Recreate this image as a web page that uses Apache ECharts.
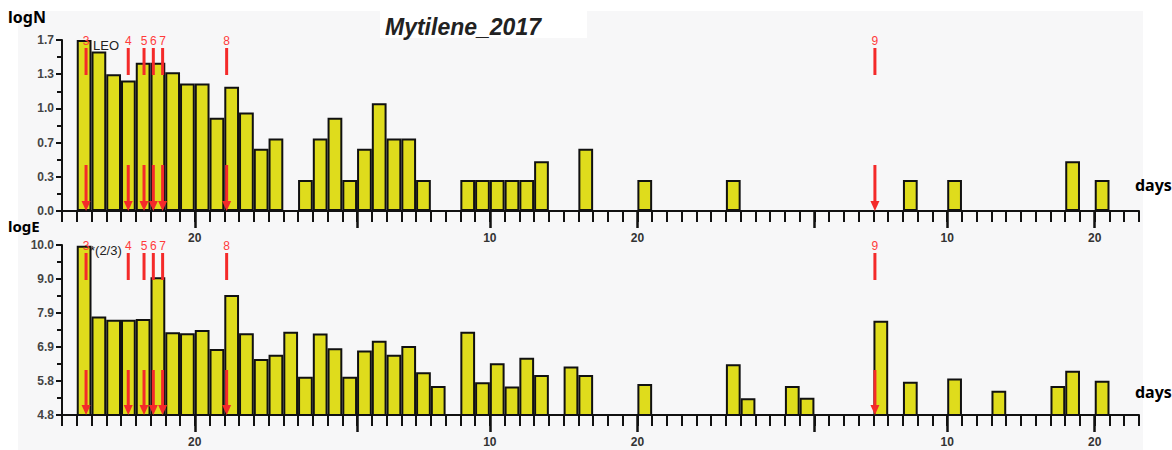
<!DOCTYPE html>
<html><head><meta charset="utf-8">
<script src="https://cdn.jsdelivr.net/npm/echarts@6/dist/echarts.min.js"></script>
<style>html,body{margin:0;padding:0;background:#fff}#c{width:1172px;height:450px}</style>
</head><body><div id="c"></div>
<script>
// ---- data ----
const title = "Mytilene_2017";
const days = [
 "Jun 11","Jun 12","Jun 13","Jun 14","Jun 15","Jun 16","Jun 17","Jun 18","Jun 19","Jun 20",
 "Jun 21","Jun 22","Jun 23","Jun 24","Jun 25","Jun 26","Jun 27","Jun 28","Jun 29","Jun 30",
 "Jul 1","Jul 2","Jul 3","Jul 4","Jul 5","Jul 6","Jul 7","Jul 8","Jul 9","Jul 10",
 "Jul 11","Jul 12","Jul 13","Jul 14","Jul 15","Jul 16","Jul 17","Jul 18","Jul 19","Jul 20",
 "Jul 21","Jul 22","Jul 23","Jul 24","Jul 25","Jul 26","Jul 27","Jul 28","Jul 29","Jul 30",
 "Jul 31","Aug 1","Aug 2","Aug 3","Aug 4","Aug 5","Aug 6","Aug 7","Aug 8","Aug 9",
 "Aug 10","Aug 11","Aug 12","Aug 13","Aug 14","Aug 15","Aug 16","Aug 17","Aug 18","Aug 19",
 "Aug 20","Aug 21","Aug 22"
];
const dayBounds = days.concat(["Aug 23"]);
const majorDays = ["1","10","20"];
const labelledDays = ["10","20"];

const logN = [
 null,1.65,1.54,1.32,1.26,1.43,1.43,1.34,1.23,1.23,
 0.90,1.20,0.95,0.60,0.70,0,0.30,0.70,0.90,0.30,
 0.60,1.04,0.70,0.70,0.30,0,null,0.30,0.30,0.30,
 0.30,0.30,0.48,null,0,0.60,null,null,null,0.30,
 null,null,null,null,null,0.30,0,null,null,0,
 0,null,null,null,null,0,null,0.30,null,null,
 0.30,null,null,0,null,null,null,0,0.48,null,
 0.30,null,null
];
const logE = [
 null,9.98,7.81,7.71,7.71,7.74,9.01,7.33,7.30,7.40,
 6.82,8.47,7.30,6.51,6.64,7.35,5.97,7.29,6.84,5.97,
 6.77,7.07,6.64,6.91,6.11,5.69,null,7.35,5.80,6.38,
 5.67,6.55,6.02,null,6.28,6.02,null,null,null,5.75,
 null,null,null,null,null,6.35,5.31,null,null,5.69,
 5.33,null,null,null,null,7.68,null,5.82,null,null,
 5.92,null,null,5.54,null,null,null,5.69,6.15,null,
 5.85,null,null
];
const logNTicks = ["0.0","0.3","0.7","1.0","1.3","1.7"];
const logETicks = ["4.8","5.8","6.9","7.9","9.0","10.0"];
const logNRange = {min:0, max:1.65, step:0.33};
const logERange = {min:4.8, max:10.0, step:1.04};
// event markers: position in days from the axis start, and their numbers
const eventPos = [1.63, 4.49, 5.56, 6.19, 6.82, 11.16, 55.1];
const eventLabels = ["3","4","5","6","7","8","9"];

// ---- styles ----
const BAR = '#dfdc1c', INK = '#111', RED = '#f42a2a';
const FONT = '"Liberation Sans", Arial, sans-serif';
const dayOf = v => String(v).split(' ')[1];

const grids = [
  {left:62, width:1077, top:40, height:171, outerBoundsMode:'none', containLabel:false},
  {left:62, width:1077, top:245, height:170, outerBoundsMode:'none', containLabel:false}
];
const xAxes = [], yAxes = [], series = [];
const panels = [
  {data:logN, ticks:logNTicks, range:logNRange},
  {data:logE, ticks:logETicks, range:logERange}
];
panels.forEach((p, g) => {
  xAxes.push({
    type:'category', gridIndex:g, position:'bottom', data:days, boundaryGap:true,
    axisLine:{onZero:false, lineStyle:{color:INK, width:2}},
    axisTick:{show:true, interval:0, length:11, lineStyle:{color:INK, width:2}},
    axisLabel:{show:false}, splitLine:{show:false}
  });
  xAxes.push({
    type:'category', gridIndex:g, position:'bottom', data:dayBounds, boundaryGap:false,
    axisLine:{show:false, onZero:false},
    axisTick:{show:true, interval:(i, v) => majorDays.includes(dayOf(v)), length:17, lineStyle:{color:INK, width:2.5}},
    axisLabel:{show:true, interval:(i, v) => labelledDays.includes(dayOf(v)),
      formatter: v => dayOf(v), margin:21, fontFamily:FONT, fontWeight:'bold', fontSize:12, color:'#333'},
    splitLine:{show:false}
  });
  xAxes.push({type:'value', gridIndex:g, position:'bottom', min:0, max:days.length, show:false});
  yAxes.push({
    type:'value', gridIndex:g, min:p.range.min, max:p.range.max, interval:p.range.step,
    axisLine:{show:true, lineStyle:{color:INK, width:2}},
    axisTick:{show:true, length:6, lineStyle:{color:INK, width:2}},
    minorTick:{show:true, splitNumber:2, length:5, lineStyle:{color:INK, width:2}},
    splitLine:{show:false},
    axisLabel:{formatter: v => p.ticks[Math.round((v - p.range.min) / p.range.step)],
      margin:8, fontFamily:FONT, fontWeight:'bold', fontSize:12, color:'#444'}
  });
  series.push({
    type:'bar', xAxisIndex:3*g, yAxisIndex:g, data:p.data, barWidth:'100%',
    itemStyle:{color:BAR, borderColor:INK, borderWidth:2}, z:2
  });
  series.push({
    type:'custom', xAxisIndex:3*g+2, yAxisIndex:g, z:5,
    data: eventPos.map((x, i) => [x, i]),
    renderItem: (params, api) => {
      const x = api.coord([api.value(0), p.range.min])[0];
      const cs = params.coordSys, top = cs.y, bot = cs.y + cs.height;
      return {type:'group', children:[
        {type:'text', style:{text:eventLabels[api.value(1)], x:x, y:top+1, textAlign:'center', textVerticalAlign:'middle',
          fill:'#ff3b3b', font:'12px ' + FONT}},
        {type:'line', shape:{x1:x, y1:top+8, x2:x, y2:top+35}, style:{stroke:RED, lineWidth:3}},
        {type:'line', shape:{x1:x, y1:top+125, x2:x, y2:bot-7}, style:{stroke:RED, lineWidth:3}},
        {type:'polygon', shape:{points:[[x-4.5, bot-10], [x+4.5, bot-10], [x, bot]]}, style:{fill:RED}}
      ]};
    }
  });
});

const chart = echarts.init(document.getElementById('c'), null, {renderer:'svg'});
chart.setOption({
  animation:false,
  backgroundColor:'#ffffff',
  grid:grids, xAxis:xAxes, yAxis:yAxes, series:series,
  graphic:[
    {type:'rect', z:-100, shape:{x:18, y:11, width:1125, height:439}, style:{fill:'#f7f7f8'}},
    {type:'rect', z:-90, shape:{x:380, y:11, width:207, height:27}, style:{fill:'#ffffff'}},
    {type:'text', z:10, x:385, y:27, style:{text:title, font:'italic bold 23px ' + FONT, fill:'#222', textVerticalAlign:'middle'}},
    {type:'text', z:10, x:8, y:17, style:{text:'logN', font:'bold 16px "Noto Sans", sans-serif', fill:'#000', textVerticalAlign:'middle'}},
    {type:'text', z:10, x:8, y:226, style:{text:'logE', font:'bold 15px "Noto Sans", sans-serif', fill:'#000', textVerticalAlign:'middle'}},
    {type:'text', z:10, x:1135, y:185, style:{text:'days', font:'bold 16px "Noto Sans", sans-serif', fill:'#000', textVerticalAlign:'middle'}},
    {type:'text', z:10, x:1135, y:392, style:{text:'days', font:'bold 16px "Noto Sans", sans-serif', fill:'#000', textVerticalAlign:'middle'}},
    {type:'text', z:10, x:93, y:45, style:{text:'LEO', font:'13px ' + FONT, fill:'#222', textVerticalAlign:'middle'}},
    {type:'text', z:10, x:90, y:250, style:{text:'*(2/3)', font:'13px ' + FONT, fill:'#222', textVerticalAlign:'middle'}}
  ]
});
</script></body></html>
